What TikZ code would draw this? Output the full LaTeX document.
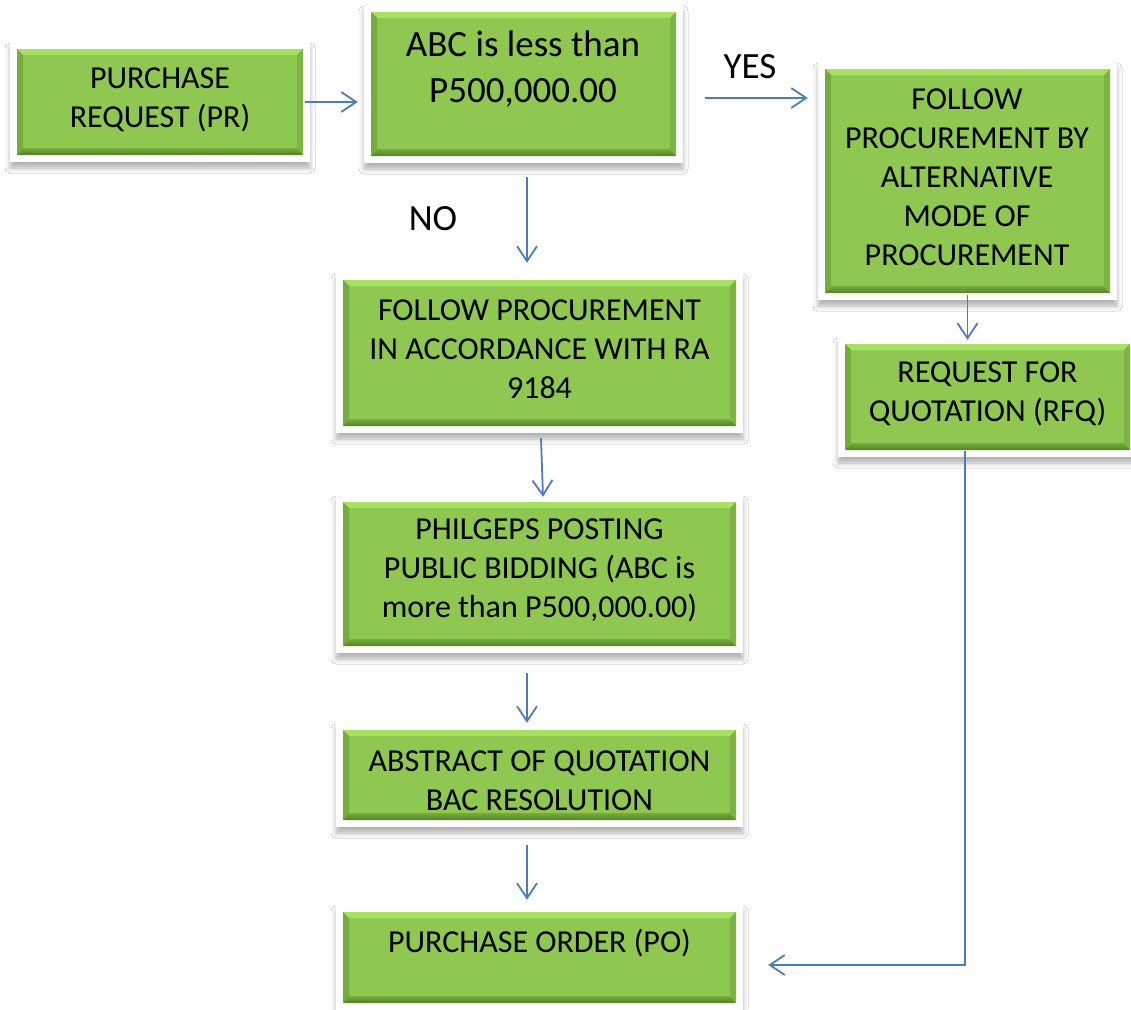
\documentclass[tikz,border=0pt]{standalone}
\usepackage{fontspec}
\setmainfont{Carlito}
\usetikzlibrary{calc,arrows.meta,shadows.blur}

\definecolor{boxgreen}{RGB}{143,200,80}
\definecolor{bevlight}{RGB}{166,226,94}
\definecolor{bevdark}{RGB}{86,128,40}
\definecolor{bevside}{RGB}{118,172,60}
\definecolor{arrowblue}{RGB}{74,126,187}

\tikzset{
  gbox/.style={rectangle, fill=white, draw=none, inner sep=0pt,
    blur shadow={shadow xshift=0pt, shadow yshift=-6pt,
                 shadow blur radius=5pt, shadow opacity=30},
    path picture={
      \coordinate (gsw) at ($(path picture bounding box.south west)+(7pt,7pt)$);
      \coordinate (gne) at ($(path picture bounding box.north east)+(-7pt,-7pt)$);
      \coordinate (gnw) at (gsw |- gne);
      \coordinate (gse) at (gsw -| gne);
      \fill[boxgreen] (gsw) rectangle (gne);
      \fill[bevlight] (gnw) -- (gne) -- ($(gne)+(-6pt,-6pt)$) -- ($(gnw)+(6pt,-6pt)$) -- cycle;
      \shade[top color=bevside, bottom color=bevdark]
        (gsw) -- (gse) -- ($(gse)+(-6pt,7pt)$) -- ($(gsw)+(6pt,7pt)$) -- cycle;
      \fill[bevside] (gsw) -- (gnw) -- ($(gnw)+(6pt,-6pt)$) -- ($(gsw)+(6pt,7pt)$) -- cycle;
      \fill[bevside!70!boxgreen] (gse) -- (gne) -- ($(gne)+(-6pt,-6pt)$) -- ($(gse)+(-6pt,7pt)$) -- cycle;
    }},
  btext/.style={align=center, inner sep=0pt, text=black,
    font=\fontsize{32}{39}\selectfont},
  lbl/.style={inner sep=0pt, text=black, font=\fontsize{37}{42}\selectfont},
  arr/.style={draw=arrowblue, line width=1.8pt,
    -{Straight Barb[length=15pt,width=20pt]}},
}

\begin{document}
\begin{tikzpicture}[x=1pt, y=-1pt]
  \useasboundingbox (0,0) rectangle (1131,1009);
  \fill[white] (0,0) rectangle (1131,1009);

  % process boxes
  \node[gbox, minimum width=300pt, minimum height=120pt] (pr)   at (160,102)    {};
  \node[gbox, minimum width=319pt, minimum height=158pt] (abc)  at (523.5,84)   {};
  \node[gbox, minimum width=299pt, minimum height=238pt] (alt)  at (967.5,181)  {};
  \node[gbox, minimum width=299pt, minimum height=120pt] (rfq)  at (987.5,397)  {};
  \node[gbox, minimum width=407pt, minimum height=160pt] (ra)   at (539.5,353)  {};
  \node[gbox, minimum width=407pt, minimum height=158pt] (phil) at (539.5,574)  {};
  \node[gbox, minimum width=407pt, minimum height=104pt] (abst) at (539.5,775)  {};
  \node[gbox, minimum width=407pt, minimum height=105pt] (po)   at (539.5,957.5){};

  % box texts
  \node[btext] (prtext) at (160,100) {PURCHASE\\REQUEST (PR)};
  \node[btext, font=\fontsize{37}{46}\selectfont] (abctext) at (523,69)
    {ABC is less than\\P500,000.00};
  \node[btext] (alttext) at (967,177)
    {FOLLOW\\PROCUREMENT BY\\ALTERNATIVE\\MODE OF\\PROCUREMENT};
  \node[btext] (rfqtext) at (987.5,394) {REQUEST FOR\\QUOTATION (RFQ)};
  \node[btext] (ratext) at (539.5,349)
    {FOLLOW PROCUREMENT\\IN ACCORDANCE WITH RA\\9184};
  \node[btext] (philtext) at (539.5,570)
    {PHILGEPS POSTING\\PUBLIC BIDDING (ABC is\\more than P500,000.00)};
  \node[btext] (absttext) at (539.5,781) {ABSTRACT OF QUOTATION\\BAC RESOLUTION};
  \node[btext] (potext) at (539.5,943) {PURCHASE ORDER (PO)};

  % branch labels
  \node[lbl] (yes) at (750,67) {YES};
  \node[lbl] (no) at (433,219) {NO};

  % connectors
  \draw[arr] ($(pr.east)+(-5,0)$) -- ($(pr.east -| abc.west)+(-6,0)$);
  \draw[arr] ($(abc.east)+(22,14)$) -- ($(abc.east -| alt.west)+(-10,14)$);
  \coordinate (noS) at ($(abc.south)+(3.5,14)$);
  \coordinate (noE) at ($(ra.north)+(-12.5,-10)$);
  \draw[arr] (noS) -- (noE);
  \draw[arr] ($(ra.south)+(1.5,5)$) -- ($(phil.north)+(3.5,2)$);
  \draw[arr] ($(phil.south)+(-12.5,20)$) -- ($(abst.north)+(-12.5,0)$);
  \draw[arr] ($(abst.south)+(-12.5,18)$) -- ($(po.north)+(-12.5,-5)$);
  \draw[arr] ($(alt.south)+(0,-5)$) -- ($(alt.south |- rfq.north)+(0,3)$);
  \draw[arr] ($(rfq.south)+(-22.5,-6)$) |- ($(po.east)+(25,7.5)$);
\end{tikzpicture}
\end{document}
